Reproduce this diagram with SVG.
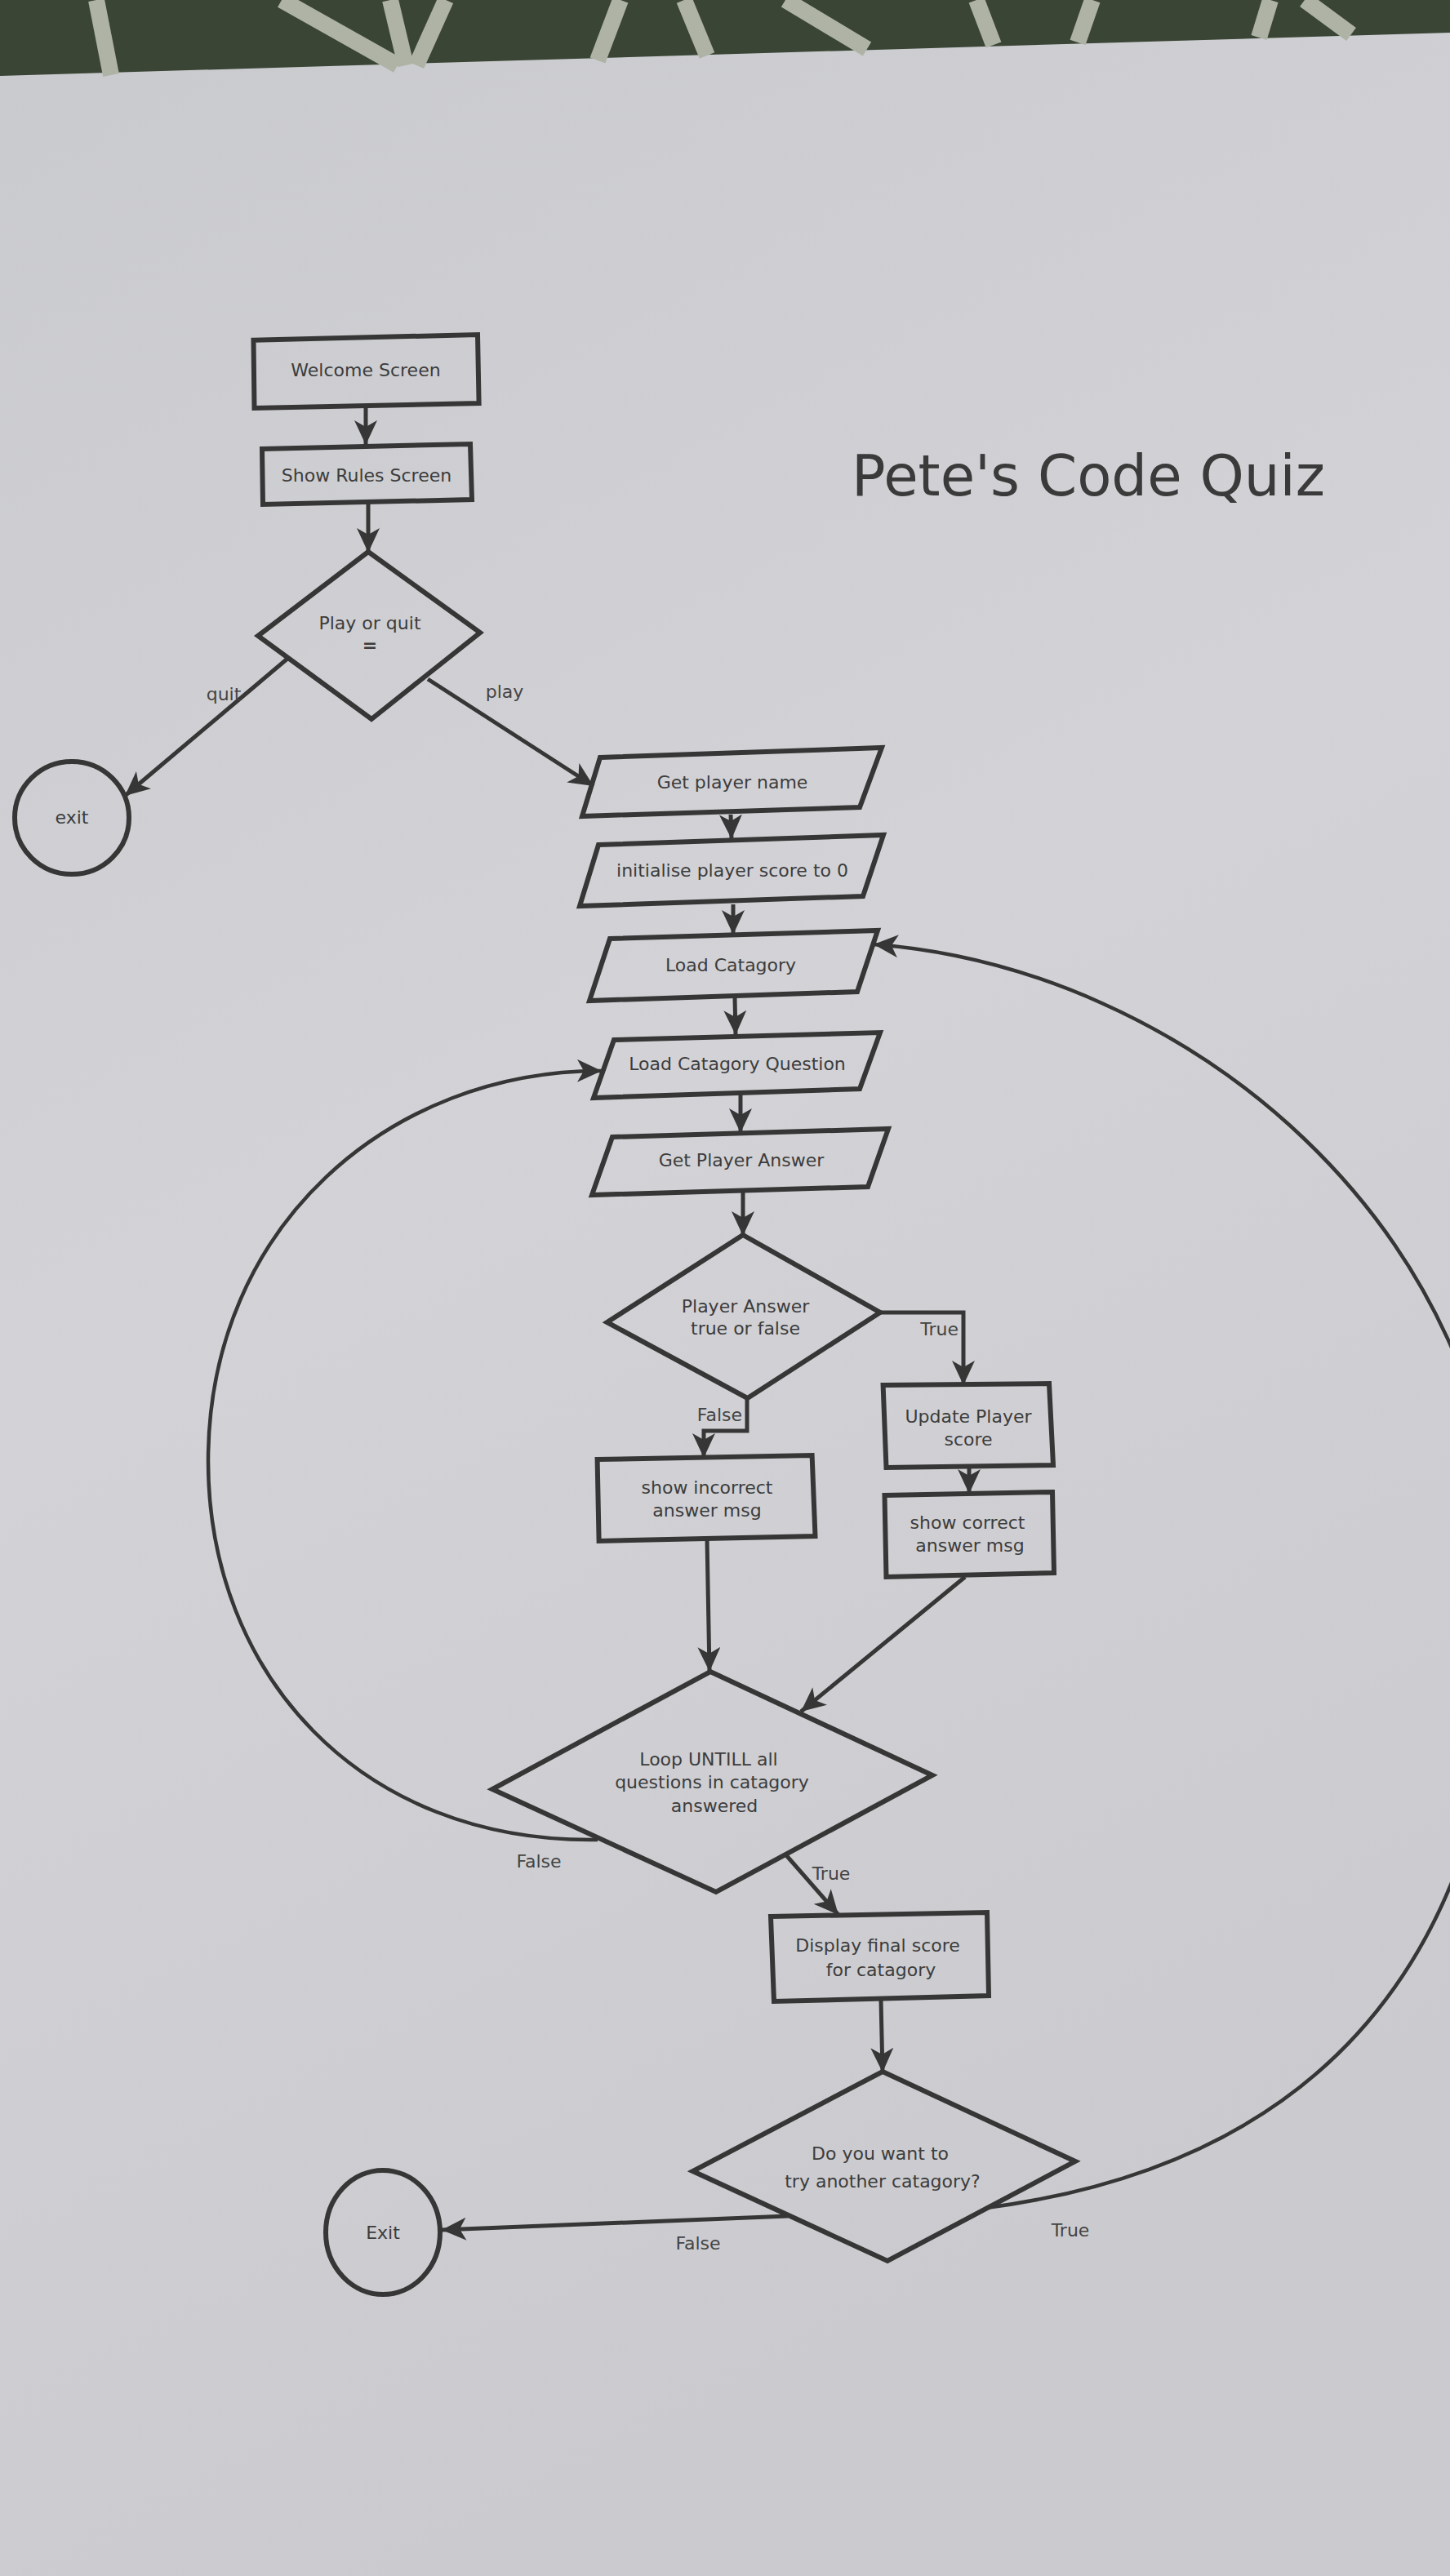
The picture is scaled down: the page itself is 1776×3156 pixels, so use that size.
<svg xmlns="http://www.w3.org/2000/svg" width="1776" height="3156" viewBox="0 0 1776 3156">
<defs>
<linearGradient id="paper" x1="0" y1="0" x2="0.3" y2="1">
<stop offset="0" stop-color="#c9cacd"/>
<stop offset="0.5" stop-color="#d3d3d7"/>
<stop offset="1" stop-color="#cbcbcf"/>
</linearGradient>
<marker id="ah" markerUnits="userSpaceOnUse" markerWidth="32" markerHeight="30" refX="30" refY="14" orient="auto" viewBox="0 0 32 30">
<path d="M0,0 L30,14 L0,28 L8,14 Z" fill="#363636"/>
</marker>
</defs>
<style>
.shape{fill:none;stroke:#363636;stroke-width:6;stroke-linejoin:miter}
.conn{fill:none;stroke:#363636;stroke-width:5}
.curve{fill:none;stroke:#363636;stroke-width:4.5}
.t{font-family:"DejaVu Sans","Liberation Sans",sans-serif;font-size:22px;fill:#3c3c3c;text-anchor:middle}
.lbl{font-family:"DejaVu Sans","Liberation Sans",sans-serif;font-size:22px;fill:#444444;text-anchor:middle}
.stripe{stroke:#aeb3a6;stroke-width:20;stroke-linecap:butt}
</style>
<rect x="0" y="0" width="1776" height="3156" fill="url(#paper)"/>
<g id="backdrop">
<polygon points="0,0 1776,0 1776,40 0,93" fill="#3a4535"/>
<line class="stripe" x1="118" y1="0" x2="136" y2="92"/>
<line class="stripe" x1="345" y1="0" x2="487" y2="80"/>
<line class="stripe" x1="478" y1="0" x2="497" y2="80"/>
<line class="stripe" x1="546" y1="0" x2="510" y2="80"/>
<line class="stripe" x1="760" y1="0" x2="732" y2="74"/>
<line class="stripe" x1="838" y1="0" x2="866" y2="68"/>
<line class="stripe" x1="962" y1="0" x2="1062" y2="60"/>
<line class="stripe" x1="1196" y1="0" x2="1217" y2="55"/>
<line class="stripe" x1="1338" y1="0" x2="1320" y2="52"/>
<line class="stripe" x1="1556" y1="0" x2="1542" y2="46"/>
<line class="stripe" x1="1598" y1="0" x2="1655" y2="42"/>
</g>
<text id="title" x="1043" y="607" font-family="DejaVu Sans, Liberation Sans, sans-serif" font-size="69" fill="#3a3a3a">Pete's Code Quiz</text>
<g id="connectors">
<line class="conn" x1="448" y1="498" x2="448" y2="545" marker-end="url(#ah)"/>
<line class="conn" x1="451" y1="616" x2="451" y2="677" marker-end="url(#ah)"/>
<line class="conn" x1="352" y1="807" x2="153" y2="975" marker-end="url(#ah)"/>
<line class="conn" x1="524" y1="832" x2="727" y2="963" marker-end="url(#ah)"/>
<line class="conn" x1="895" y1="998" x2="896" y2="1028" marker-end="url(#ah)"/>
<line class="conn" x1="898" y1="1108" x2="898" y2="1145" marker-end="url(#ah)"/>
<line class="conn" x1="900" y1="1222" x2="901" y2="1268" marker-end="url(#ah)"/>
<line class="conn" x1="907" y1="1340" x2="907" y2="1388" marker-end="url(#ah)"/>
<line class="conn" x1="910" y1="1460" x2="910" y2="1514" marker-end="url(#ah)"/>
<polyline class="conn" points="1078,1608 1180,1608 1180,1697" marker-end="url(#ah)"/>
<polyline class="conn" points="915,1713 915,1753 862,1753 862,1786" marker-end="url(#ah)"/>
<line class="conn" x1="1187" y1="1797" x2="1187" y2="1830" marker-end="url(#ah)"/>
<line class="conn" x1="866" y1="1886" x2="869" y2="2048" marker-end="url(#ah)"/>
<line class="conn" x1="1182" y1="1932" x2="981" y2="2097" marker-end="url(#ah)"/>
<path class="curve" d="M732,2254 C440,2258 255,2050 255,1790 C255,1500 480,1311 737,1312" marker-end="url(#ah)"/>
<line class="conn" x1="963" y1="2273" x2="1027" y2="2346" marker-end="url(#ah)"/>
<line class="conn" x1="1079" y1="2450" x2="1081" y2="2539" marker-end="url(#ah)"/>
<line class="conn" x1="965" y1="2715" x2="541" y2="2732" marker-end="url(#ah)"/>
<path class="curve" d="M1208,2705 C1700,2640 1840,2300 1840,1950 C1840,1500 1450,1185 1070,1157" marker-end="url(#ah)"/>
</g>
<g id="n-welcome">
<polygon class="shape" points="310.5,416.7 585,410 586.6,494 311.5,500"/>
<text class="t" x="448" y="461">Welcome Screen</text>
</g>
<g id="n-rules">
<polygon class="shape" points="321,550 576,544 578,612 322,618"/>
<text class="t" x="449" y="590">Show Rules Screen</text>
</g>
<g id="n-playquit">
<polygon class="shape" points="451,676 588,775 455,881 316,779"/>
<text class="t" x="453" y="771">Play or quit</text>
<text class="t" x="453" y="798" font-weight="bold">=</text>
</g>
<text class="lbl" x="274" y="858">quit</text>
<text class="lbl" x="618" y="855">play</text>
<g id="n-exit1">
<ellipse class="shape" cx="88" cy="1002" rx="70" ry="69"/>
<text class="t" x="88" y="1009">exit</text>
</g>
<g id="n-getname">
<polygon class="shape" points="735,928 1080,916 1053,989 713,1000"/>
<text class="t" x="897" y="966">Get player name</text>
</g>
<g id="n-init">
<polygon class="shape" points="733,1035 1082,1023 1057,1098 710,1110"/>
<text class="t" x="897" y="1074">initialise player score to 0</text>
</g>
<g id="n-loadcat">
<polygon class="shape" points="747,1150 1075,1140 1050,1215 722,1226"/>
<text class="t" x="895" y="1190">Load Catagory</text>
</g>
<g id="n-loadq">
<polygon class="shape" points="752,1274 1078,1265 1053,1334 727,1345"/>
<text class="t" x="903" y="1311">Load Catagory Question</text>
</g>
<g id="n-getans">
<polygon class="shape" points="750,1393 1088,1383 1063,1454 725,1464"/>
<text class="t" x="908" y="1429">Get Player Answer</text>
</g>
<g id="n-answer">
<polygon class="shape" points="910,1513 1078,1608 915.5,1713 743.5,1620"/>
<text class="t" x="913" y="1608">Player Answer</text>
<text class="t" x="913" y="1635">true or false</text>
</g>
<text class="lbl" x="1174" y="1636" text-anchor="end" style="text-anchor:end">True</text>
<text class="lbl" x="909" y="1741" style="text-anchor:end">False</text>
<g id="n-update">
<polygon class="shape" points="1081.6,1697 1285,1695 1290,1795 1085.5,1798"/>
<text class="t" x="1186" y="1743">Update Player</text>
<text class="t" x="1186" y="1771">score</text>
</g>
<g id="n-correct">
<polygon class="shape" points="1083.5,1832 1289,1828 1291,1927 1085.5,1932"/>
<text class="t" x="1185" y="1873">show correct</text>
<text class="t" x="1188" y="1901">answer msg</text>
</g>
<g id="n-incorrect">
<polygon class="shape" points="731.6,1788 994.6,1783 998.5,1882 733.6,1888"/>
<text class="t" x="866" y="1830">show incorrect</text>
<text class="t" x="866" y="1858">answer msg</text>
</g>
<g id="n-loop">
<polygon class="shape" points="870,2048 1142,2175 877,2318 603,2192"/>
<text class="t" x="868" y="2163">Loop UNTILL all</text>
<text class="t" x="872" y="2191">questions in catagory</text>
<text class="t" x="875" y="2220">answered</text>
</g>
<text class="lbl" x="660" y="2288">False</text>
<text class="lbl" x="1018" y="2303">True</text>
<g id="n-display">
<polygon class="shape" points="944,2348 1209,2343 1211,2445 948,2452"/>
<text class="t" x="1075" y="2391">Display final score</text>
<text class="t" x="1079" y="2421">for catagory</text>
</g>
<g id="n-another">
<polygon class="shape" points="1081,2538 1317,2648 1087,2770 848.5,2660"/>
<text class="t" x="1078" y="2646">Do you want to</text>
<text class="t" x="1081" y="2680">try another catagory?</text>
</g>
<text class="lbl" x="855" y="2756">False</text>
<text class="lbl" x="1311" y="2740">True</text>
<g id="n-exit2">
<ellipse class="shape" cx="469" cy="2735" rx="70" ry="76"/>
<text class="t" x="469" y="2743">Exit</text>
</g>
</svg>
